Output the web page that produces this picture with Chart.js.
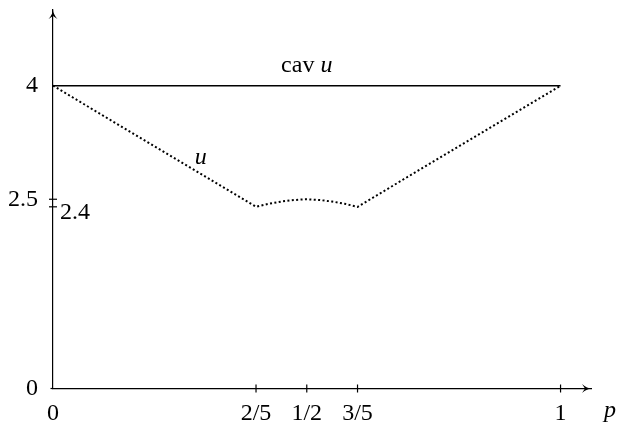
<!DOCTYPE html>
<html>
<head>
<meta charset="utf-8">
<script src="https://cdn.jsdelivr.net/npm/chart.js@4"></script>
<style>
  html, body { margin: 0; padding: 0; background: #fff; }
  #wrap { width: 618px; height: 430px; }
</style>
</head>
<body>
<div id="wrap"><canvas id="c" width="618" height="430"></canvas></div>
<script>
// ---- data ----
const uP      = [0, 0.4, 0.425, 0.45, 0.475, 0.5, 0.525, 0.55, 0.575, 0.6, 1];
const uValues = [4, 2.4, 2.44, 2.47, 2.49, 2.5, 2.49, 2.47, 2.44, 2.4, 4];
const cavP      = [0, 1];
const cavValues = [4, 4];
const xTickValues = [0, 0.4, 0.5, 0.6, 1];
const xTickLabels = ['0', '2/5', '1/2', '3/5', '1'];
const yTickValues = [0, 2.4, 2.5, 4];
const yTickLabels = ['0', '2.4', '2.5', '4'];
const xMarkedTicks = [0.4, 0.5, 0.6, 1];
const yMarkedTicks = [2.4, 2.5];

const FONT = '"Liberation Serif", "DejaVu Serif", serif';
const FS = 24;

const decor = {
  id: 'decor',
  afterDraw(chart) {
    const ctx = chart.ctx, x = chart.scales.x, y = chart.scales.y;
    const x0 = x.getPixelForValue(0), y0 = y.getPixelForValue(0);
    const ca = chart.chartArea;
    ctx.save();
    ctx.strokeStyle = '#000';
    ctx.fillStyle = '#000';
    ctx.lineWidth = 1.2;
    ctx.beginPath(); ctx.moveTo(x0 - 2.5, y0); ctx.lineTo(x0, y0); ctx.stroke();
    xMarkedTicks.forEach(v => {
      const px = x.getPixelForValue(v);
      ctx.beginPath(); ctx.moveTo(px, y0 - 4); ctx.lineTo(px, y0 + 4); ctx.stroke();
    });
    yMarkedTicks.forEach(v => {
      const py = y.getPixelForValue(v);
      ctx.beginPath(); ctx.moveTo(x0 - 4, py); ctx.lineTo(x0 + 4, py); ctx.stroke();
    });
    const ax = ca.right, ay = ca.top;
    ctx.beginPath();
    ctx.moveTo(ax + 1, y0);
    ctx.quadraticCurveTo(ax - 4, y0, ax - 9, y0 - 4.5);
    ctx.lineTo(ax - 6, y0);
    ctx.lineTo(ax - 9, y0 + 4.5);
    ctx.quadraticCurveTo(ax - 4, y0, ax + 1, y0);
    ctx.fill();
    ctx.beginPath();
    ctx.moveTo(x0, ay - 1);
    ctx.quadraticCurveTo(x0, ay + 4, x0 - 4.5, ay + 9);
    ctx.lineTo(x0, ay + 6);
    ctx.lineTo(x0 + 4.5, ay + 9);
    ctx.quadraticCurveTo(x0, ay + 4, x0, ay - 1);
    ctx.fill();
    ctx.textBaseline = 'middle';
    ctx.font = FS + 'px ' + FONT;
    ctx.textAlign = 'left';
    ctx.fillText(yTickLabels[1], x0 + 7, y.getPixelForValue(2.4) + 6);
    const cx = x.getPixelForValue(0.5), cy = y.getPixelForValue(4) - 20;
    const w1 = ctx.measureText('cav ').width;
    ctx.font = 'italic ' + FS + 'px ' + FONT;
    const w2 = ctx.measureText('u').width;
    const start = cx - (w1 + w2) / 2;
    ctx.font = FS + 'px ' + FONT;
    ctx.fillText('cav ', start, cy);
    ctx.font = 'italic ' + FS + 'px ' + FONT;
    ctx.fillText('u', start + w1, cy);
    ctx.textAlign = 'center';
    ctx.fillText('u', x.getPixelForValue(0.291), y.getPixelForValue(3.05));
    ctx.fillText('p', ca.right + 19, y0 + 22);
    ctx.restore();
  }
};

new Chart(document.getElementById('c'), {
  type: 'line',
  data: {
    datasets: [
      {
        label: 'cav u',
        data: cavP.map((p, i) => ({ x: p, y: cavValues[i] })),
        borderColor: '#000',
        borderWidth: 1.6,
        pointRadius: 0,
        tension: 0
      },
      {
        label: 'u',
        data: uP.map((p, i) => ({ x: p, y: uValues[i] })),
        borderColor: '#000',
        borderWidth: 2,
        borderDash: [2, 2.4],
        pointRadius: 0,
        tension: 0
      }
    ]
  },
  options: {
    responsive: false,
    animation: false,
    devicePixelRatio: 1,
    layout: { padding: { top: 10, right: 27, left: 0, bottom: 0 } },
    plugins: { legend: { display: false }, tooltip: { enabled: false } },
    scales: {
      x: {
        type: 'linear', min: 0, max: 1.06,
        afterBuildTicks: s => { s.ticks = xTickValues.map(v => ({ value: v })); },
        afterFit: s => { s.height = 41.5; s.paddingLeft = 0; s.paddingRight = 0; },
        grid: { display: false, drawTicks: false },
        border: { display: true, color: '#000', width: 1.2 },
        ticks: {
          autoSkip: false, maxRotation: 0, padding: 11, color: '#000',
          font: { family: FONT, size: FS },
          callback: v => { const i = xTickValues.indexOf(v); return i >= 0 ? xTickLabels[i] : ''; }
        }
      },
      y: {
        type: 'linear', min: 0, max: 5,
        afterBuildTicks: s => { s.ticks = yTickValues.map(v => ({ value: v })); },
        afterFit: s => { s.width = 53; s.paddingTop = 0; s.paddingBottom = 0; },
        grid: { display: false, drawTicks: false },
        border: { display: true, color: '#000', width: 1.2 },
        ticks: {
          autoSkip: false, padding: 15, color: '#000',
          font: { family: FONT, size: FS },
          callback: v => { if (v === 2.4) return ''; const i = yTickValues.indexOf(v); return i >= 0 ? yTickLabels[i] : ''; }
        }
      }
    }
  },
  plugins: [decor]
});
</script>
</body>
</html>
